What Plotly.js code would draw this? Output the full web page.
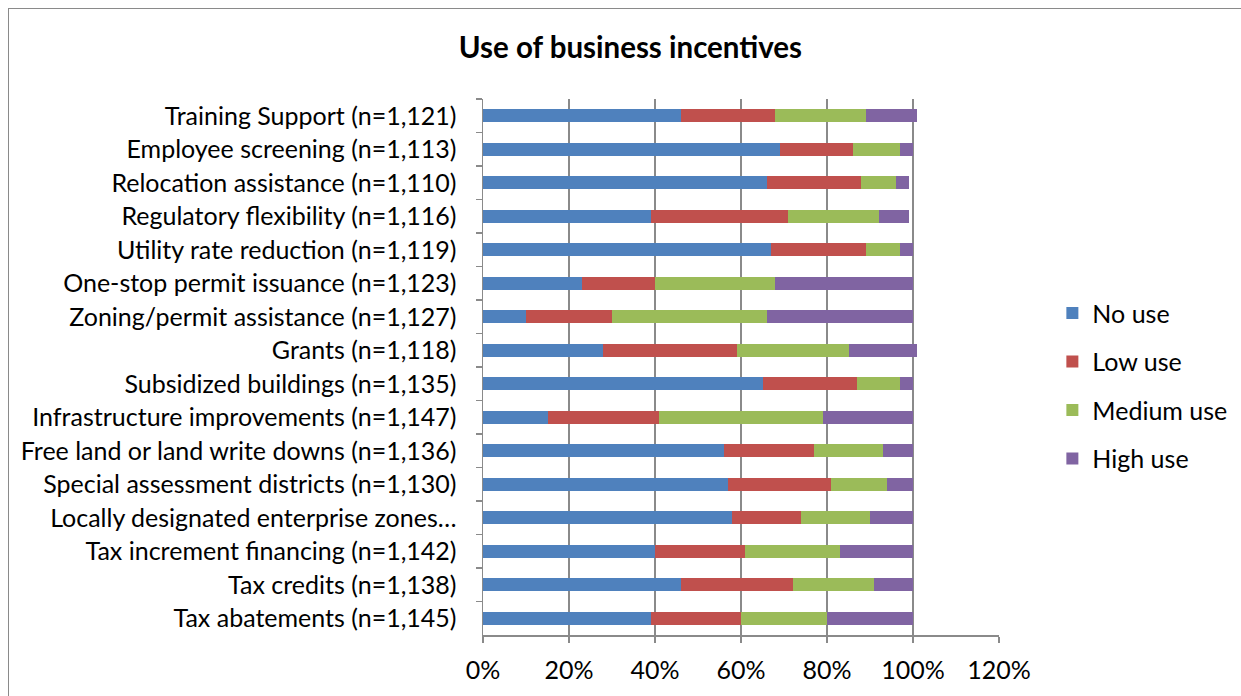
<!DOCTYPE html>
<html>
<head>
<meta charset="utf-8">
<script src="https://cdn.plot.ly/plotly-3.0.1.min.js"></script>
<style>
html,body{margin:0;padding:0;background:#fff;overflow:hidden;}
#chart{position:absolute;left:0;top:0;width:1241px;height:696px;}
#frame{position:absolute;left:8px;top:8px;width:1260px;height:720px;border:1px solid #8a8a8a;pointer-events:none;}
</style>
</head>
<body>
<div id="chart"></div>
<div id="frame"></div>
<script>
// Categories, top to bottom as displayed
const categories = [
  "Training Support (n=1,121)",
  "Employee screening (n=1,113)",
  "Relocation assistance (n=1,110)",
  "Regulatory flexibility (n=1,116)",
  "Utility rate reduction (n=1,119)",
  "One-stop permit issuance (n=1,123)",
  "Zoning/permit assistance (n=1,127)",
  "Grants (n=1,118)",
  "Subsidized buildings (n=1,135)",
  "Infrastructure improvements (n=1,147)",
  "Free land or land write downs (n=1,136)",
  "Special assessment districts (n=1,130)",
  "Locally designated enterprise zones…",
  "Tax increment financing (n=1,142)",
  "Tax credits (n=1,138)",
  "Tax abatements (n=1,145)"
];
const noUse     = [46, 69, 66, 39, 67, 23, 10, 28, 65, 15, 56, 57, 58, 40, 46, 39];
const lowUse    = [22, 17, 22, 32, 22, 17, 20, 31, 22, 26, 21, 24, 16, 21, 26, 21];
const mediumUse = [21, 11,  8, 21,  8, 28, 36, 26, 10, 38, 16, 13, 16, 22, 19, 20];
const highUse   = [12,  3,  3,  7,  3, 32, 34, 16,  3, 21,  7,  6, 10, 17,  9, 20];
const seriesNames = ["No use", "Low use", "Medium use", "High use"];
const seriesColors = ["#4F81BD", "#C0504D", "#9BBB59", "#8064A2"];
const xTicks = [0, 20, 40, 60, 80, 100, 120];

const seriesData = [noUse, lowUse, mediumUse, highUse];
const traces = seriesData.map((vals, i) => ({
  type: "bar",
  orientation: "h",
  name: seriesNames[i],
  legendgroup: "g" + i,
  x: vals,
  y: categories,
  marker: {color: seriesColors[i], line: {width: 0}},
  hoverinfo: "x+y+name"
}));

const font = "Lato, 'Open Sans', sans-serif";
const layout = {
  width: 1241,
  height: 696,
  margin: {l: 483, r: 242, t: 99, b: 61, pad: 0},
  paper_bgcolor: "#ffffff",
  plot_bgcolor: "#ffffff",
  barmode: "stack",
  bargap: 0.6,
  showlegend: true,
  font: {family: font, size: 25, color: "#000"},
  title: {
    text: "<b>Use of business incentives</b>",
    font: {family: font, size: 29.5, color: "#000"},
    x: 0.508, xref: "container", xanchor: "center",
    y: 0.931, yref: "container", yanchor: "middle"
  },
  xaxis: {
    range: [0, 120],
    tickvals: xTicks,
    ticktext: xTicks.map(v => v + "%"),
    showgrid: true,
    gridcolor: "#8a8a8a",
    gridwidth: 1.5,
    zeroline: false,
    showline: true,
    linecolor: "#8a8a8a",
    linewidth: 1.5,
    ticks: "outside",
    ticklen: 6,
    tickcolor: "#8a8a8a",
    tickwidth: 1.5,
    ticklabelstandoff: 6,
    tickfont: {family: font, size: 25, color: "#000"},
    automargin: false,
    fixedrange: true
  },
  yaxis: {
    type: "category",
    range: [15.5, -0.5],
    showgrid: false,
    zeroline: false,
    showline: true,
    linecolor: "#8a8a8a",
    linewidth: 1.5,
    ticks: "outside",
    tickson: "boundaries",
    ticklen: 6,
    tickcolor: "#8a8a8a",
    tickwidth: 1.5,
    ticklabelstandoff: 20,
    tickfont: {family: font, size: 25, color: "#000"},
    automargin: false,
    fixedrange: true
  },
  legend: {
    xref: "container", yref: "container",
    x: 0.848, xanchor: "left",
    y: 0.583, yanchor: "top",
    traceorder: "grouped",
    tracegroupgap: 13,
    font: {family: font, size: 25, color: "#000"},
    bgcolor: "rgba(0,0,0,0)",
    itemwidth: 30
  }
};

Plotly.newPlot("chart", traces, layout, {displayModeBar: false, staticPlot: true});
</script>
</body>
</html>
